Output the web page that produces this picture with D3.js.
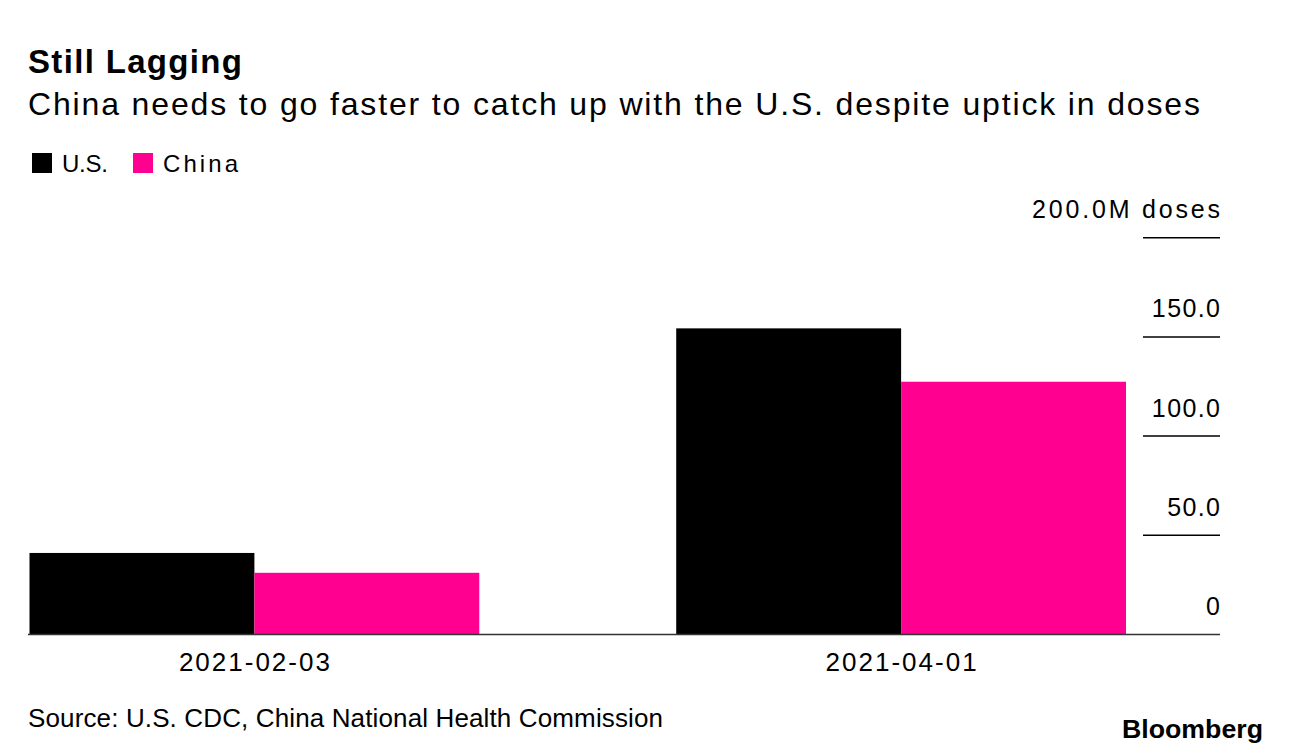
<!DOCTYPE html>
<html>
<head>
<meta charset="utf-8">
<script src="https://cdn.jsdelivr.net/npm/d3@7"></script>
<style>
  body { margin: 0; background: #fff; }
  text { font-family: "Liberation Sans", Arial, sans-serif; }
</style>
</head>
<body>
<div id="chart"></div>
<script>
// Data (millions of doses)
const dates = ["2021-02-03", "2021-04-01"];
const seriesNames = ["U.S.", "China"];
const usDoses = [41.1, 154.3];
const chinaDoses = [31.1, 127.4];
const yTicks = [0, 50, 100, 150, 200];

const colors = { "U.S.": "#000000", "China": "#ff0090" };

const width = 1289, height = 756;

const svg = d3.select("#chart")
  .append("svg")
  .attr("width", width)
  .attr("height", height);

// Title + subtitle (Bloomberg's face is wider than Liberation, so stretch spacing)
svg.append("text")
  .attr("x", 28).attr("y", 73)
  .attr("font-size", "33px")
  .attr("font-weight", "bold")
  .attr("textLength", 214)
  .attr("lengthAdjust", "spacing")
  .attr("fill", "#000")
  .text("Still Lagging");

svg.append("text")
  .attr("x", 28).attr("y", 115)
  .attr("font-size", "32px")
  .attr("textLength", 1172)
  .attr("lengthAdjust", "spacing")
  .attr("fill", "#000")
  .text("China needs to go faster to catch up with the U.S. despite uptick in doses");

// Legend
const legendItems = [
  { name: "U.S.", x: 0, len: 46 },
  { name: "China", x: 101, len: 75 }
];
const legend = svg.append("g").attr("transform", "translate(32,153)");
legendItems.forEach(d => {
  legend.append("rect")
    .attr("x", d.x).attr("y", 0)
    .attr("width", 20).attr("height", 20)
    .attr("fill", colors[d.name]);
  legend.append("text")
    .attr("x", d.x + 30).attr("y", 19)
    .attr("font-size", "24px")
    .attr("textLength", d.len)
    .attr("lengthAdjust", "spacing")
    .attr("fill", "#000")
    .text(d.name);
});

// Scales
const x0 = d3.scaleBand()
  .domain(dates)
  .range([29.5, 1126])
  .paddingInner(0.3045)
  .paddingOuter(0);

const x1 = d3.scaleBand()
  .domain(seriesNames)
  .range([0, x0.bandwidth()]);

const y = d3.scaleLinear()
  .domain([0, 200])
  .range([634.5, 237.7]);

const rows = dates.map((d, i) => ({ date: d, values: [
  { name: "U.S.", value: usDoses[i] },
  { name: "China", value: chinaDoses[i] }
]}));

// Bars
svg.append("g")
  .selectAll("g")
  .data(rows)
  .join("g")
  .attr("transform", d => `translate(${x0(d.date)},0)`)
  .selectAll("rect")
  .data(d => d.values)
  .join("rect")
  .attr("x", d => x1(d.name))
  .attr("y", d => y(d.value))
  .attr("width", x1.bandwidth())
  .attr("height", d => y(0) - y(d.value))
  .attr("fill", d => colors[d.name]);

// Right axis: short tick lines with labels above
const axisG = svg.append("g");
yTicks.forEach(v => {
  if (v > 0) {
    axisG.append("line")
      .attr("x1", 1143).attr("x2", 1220)
      .attr("y1", y(v)).attr("y2", y(v))
      .attr("stroke", "#000")
      .attr("stroke-width", 1.5);
  }
  const label = axisG.append("text")
    .attr("y", y(v) - 19.5)
    .attr("text-anchor", "end")
    .attr("font-size", "25px")
    .attr("fill", "#000")
    .text(v === 0 ? "0" : v === 200 ? "200.0M doses" : d3.format(".1f")(v));
  if (v === 200) {
    label.attr("x", 1220)
      .attr("textLength", 188)
      .attr("lengthAdjust", "spacing");
  } else {
    label.attr("x", 1220 + 1.4)
      .attr("letter-spacing", "1.4px");
  }
});

// Baseline
svg.append("line")
  .attr("x1", 28).attr("x2", 1220)
  .attr("y1", y(0)).attr("y2", y(0))
  .attr("stroke", "#333")
  .attr("stroke-width", 1.5);

// X axis labels
svg.append("g")
  .selectAll("text")
  .data(dates)
  .join("text")
  .attr("x", d => x0(d) + x0.bandwidth() / 2 + 1)
  .attr("y", 671)
  .attr("text-anchor", "middle")
  .attr("font-size", "26px")
  .attr("letter-spacing", "2px")
  .attr("fill", "#000")
  .text(d => d);

// Footer
svg.append("text")
  .attr("x", 28).attr("y", 727)
  .attr("font-size", "26px")
  .attr("textLength", 635)
  .attr("lengthAdjust", "spacing")
  .attr("fill", "#000")
  .text("Source: U.S. CDC, China National Health Commission");

svg.append("text")
  .attr("x", 1122).attr("y", 738)
  .attr("font-size", "26px")
  .attr("font-weight", "bold")
  .attr("textLength", 141)
  .attr("lengthAdjust", "spacingAndGlyphs")
  .attr("fill", "#000")
  .text("Bloomberg");
</script>
</body>
</html>
